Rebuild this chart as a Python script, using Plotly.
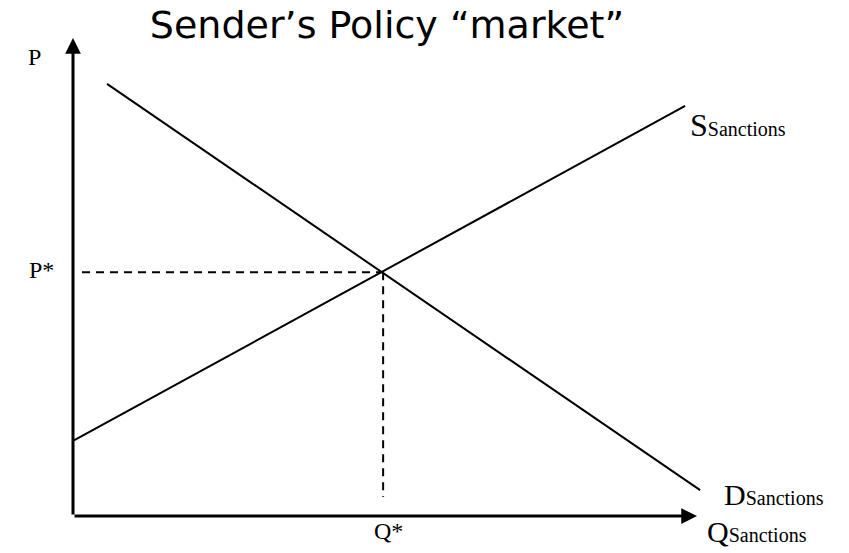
import plotly.graph_objects as go

# ---- data (economic units) ----
axis_q_max = 10.0
axis_p_max = 10.0
demand_q = [0.545, 10.05]
demand_p = [9.04, 0.54]
supply_q = [0.0, 9.81]
supply_p = [1.57, 8.58]
eq_q = 4.97
eq_p = 5.10
guide_start_q = 0.144
guide_end_p = 0.40

title_text = "Sender’s Policy “market”"
serif = "Liberation Serif, Times New Roman, serif"

W, H = 849, 553
X0, Y0, SX, SY = 73, 516, 62.4, 47.8   # origin (page px) and px per unit

fig = go.Figure()

fig.add_trace(go.Scatter(x=demand_q, y=demand_p, mode="lines",
                         line=dict(color="black", width=2), hoverinfo="skip"))
fig.add_trace(go.Scatter(x=supply_q, y=supply_p, mode="lines",
                         line=dict(color="black", width=2), hoverinfo="skip"))
fig.add_trace(go.Scatter(x=[guide_start_q, eq_q], y=[eq_p, eq_p], mode="lines",
                         line=dict(color="black", width=2, dash="8px,6px"), hoverinfo="skip"))
fig.add_trace(go.Scatter(x=[eq_q, eq_q], y=[eq_p, guide_end_p], mode="lines",
                         line=dict(color="black", width=2, dash="8px,6px"), hoverinfo="skip"))

# axes drawn as arrows
fig.add_annotation(x=0, y=axis_p_max, ax=0, ay=0, xref="x", yref="y", axref="x", ayref="y",
                   text="", showarrow=True, arrowhead=2, arrowwidth=3, arrowsize=1.05,
                   arrowcolor="black", standoff=0)
fig.add_annotation(x=axis_q_max, y=0, ax=0, ay=0, xref="x", yref="y", axref="x", ayref="y",
                   text="", showarrow=True, arrowhead=2, arrowwidth=3, arrowsize=1.05,
                   arrowcolor="black", standoff=0)

def label(text, q, p, size, xanchor="center"):
    fig.add_annotation(x=q, y=p, xref="x", yref="y", text=text, showarrow=False,
                       xanchor=xanchor, yanchor="middle",
                       font=dict(family=serif, size=size, color="black"))

sub = '<span style="font-size:20px">Sanctions</span>'
label("P", -0.61, 9.60, 24)
label("P*", -0.50, 5.15, 24)
label("Q*", 5.05, -0.31, 24)
label("S" + sub, 9.86, 8.18, 32, xanchor="left")
label("D" + sub, 10.40, 0.44, 30, xanchor="left")
label("Q" + sub, 10.13, -0.32, 30, xanchor="left")

fig.update_layout(
    width=W, height=H,
    margin=dict(l=0, r=0, t=0, b=0, pad=0),
    paper_bgcolor="white", plot_bgcolor="white",
    showlegend=False,
    hovermode=False,
    title=dict(text=title_text, x=387 / W, xanchor="center", xref="paper",
               y=1 - 25 / H, yref="container", yanchor="middle",
               font=dict(family="DejaVu Sans, sans-serif", size=38, color="black")),
    xaxis=dict(range=[-X0 / SX, (W - X0) / SX], visible=False, fixedrange=True),
    yaxis=dict(range=[(Y0 - H) / SY, Y0 / SY], visible=False, fixedrange=True),
)

fig.write_html("out.html",
               config={"displayModeBar": False},
               post_script="document.body.style.margin='0px';document.body.style.overflow='hidden';")
